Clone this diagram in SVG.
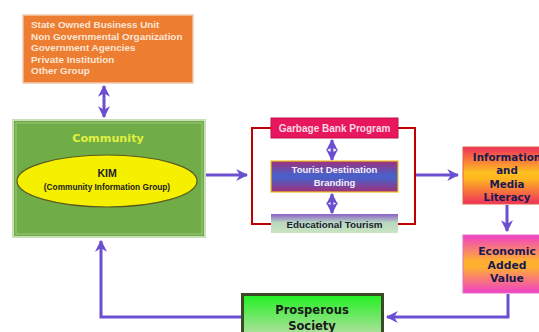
<svg xmlns="http://www.w3.org/2000/svg" width="539" height="332" viewBox="0 0 539 332">
<style>
.conn{fill:none;stroke:#6a4fd0;stroke-width:3}
.t1{font-family:"Liberation Sans",Arial,sans-serif;font-weight:bold}
.t2{font-family:"DejaVu Sans",sans-serif;font-weight:bold}
</style>
<defs>
<marker id="ah" viewBox="0 0 10 10" refX="9" refY="5" markerWidth="4" markerHeight="4" orient="auto-start-reverse" markerUnits="strokeWidth">
<path d="M0,0 L10,5 L0,10 L3,5 z" fill="#6a4fd0"/>
</marker>
<linearGradient id="gTour" x1="0" y1="0" x2="0" y2="1">
<stop offset="0" stop-color="#a0307a"/><stop offset="0.45" stop-color="#4a60c8"/><stop offset="0.55" stop-color="#4a60c8"/><stop offset="1" stop-color="#a0307a"/>
</linearGradient>
<linearGradient id="gEdu" x1="0" y1="0" x2="0" y2="1">
<stop offset="0" stop-color="#8a60c8"/><stop offset="0.45" stop-color="#b8d8c0"/><stop offset="1" stop-color="#c8e4c0"/>
</linearGradient>
<linearGradient id="gInfo" x1="0" y1="0" x2="0" y2="1">
<stop offset="0" stop-color="#f0305a"/><stop offset="0.45" stop-color="#ffc020"/><stop offset="0.55" stop-color="#ffb820"/><stop offset="1" stop-color="#f0305a"/>
</linearGradient>
<linearGradient id="gEco" x1="0" y1="0" x2="0" y2="1">
<stop offset="0" stop-color="#f040c8"/><stop offset="0.45" stop-color="#ffb030"/><stop offset="0.55" stop-color="#ffb030"/><stop offset="1" stop-color="#f040c8"/>
</linearGradient>
<linearGradient id="gPro" x1="0" y1="0" x2="0" y2="1">
<stop offset="0" stop-color="#20f020"/><stop offset="1" stop-color="#b0e0a0"/>
</linearGradient>
</defs>

<g id="connectors">
<line class="conn" x1="104" y1="86" x2="104" y2="117" marker-start="url(#ah)" marker-end="url(#ah)"/>
<line class="conn" x1="206" y1="175" x2="247" y2="175" marker-end="url(#ah)"/>
<line class="conn" x1="332" y1="140" x2="332" y2="160" marker-start="url(#ah)" marker-end="url(#ah)"/>
<line class="conn" x1="332" y1="194" x2="332" y2="213" marker-start="url(#ah)" marker-end="url(#ah)"/>
<line class="conn" x1="416" y1="175" x2="458" y2="175" marker-end="url(#ah)"/>
<line class="conn" x1="507" y1="205" x2="507" y2="231" marker-end="url(#ah)"/>
<polyline class="conn" points="508,294 508,317 387,317" marker-end="url(#ah)"/>
<polyline class="conn" points="241,317 101,317 101,241" marker-end="url(#ah)"/>
</g>

<g id="others">
<rect x="23" y="15" width="170" height="68" fill="#ed7d31" stroke="#f2c8b0" stroke-width="1.5"/>
<g class="t1" font-size="9.9" fill="#fbe6d6">
<text x="31" y="28">State Owned Business Unit</text>
<text x="31" y="39.5">Non Governmental Organization</text>
<text x="31" y="51">Government Agencies</text>
<text x="31" y="62.5">Private Institution</text>
<text x="31" y="74">Other Group</text>
</g>
</g>

<g id="community">
<rect x="13" y="120" width="192" height="117" fill="#70ad47" stroke="#c8e0b8" stroke-width="2"/>
<rect x="16" y="123" width="186" height="111" fill="none" stroke="#a8d090" stroke-width="0.8"/>
<text x="108" y="142" text-anchor="middle" class="t2" font-size="11.2" fill="#e0f040">Community</text>
<ellipse cx="107" cy="181" rx="90" ry="26" fill="#f5f000" stroke="#5a5a20" stroke-width="1.2"/>
<text x="107" y="177" text-anchor="middle" class="t1" font-size="10.5" fill="#202020">KIM</text>
<text x="107" y="189.5" text-anchor="middle" class="t1" font-size="8.3" fill="#202020">(Community Information Group)</text>
</g>

<g id="program">
<rect x="252" y="128" width="163" height="96" fill="none" stroke="#c00000" stroke-width="2"/>
<g id="garbage">
<rect x="271" y="118" width="127" height="20" fill="#e8175d" stroke="#c0104a" stroke-width="1"/>
<text x="334.5" y="132" text-anchor="middle" class="t1" font-size="10" fill="#fbd8e4">Garbage Bank Program</text>
</g>
<g id="tourist">
<rect x="271" y="161" width="127" height="31" fill="url(#gTour)" stroke="#f0c020" stroke-width="1.2"/>
<text x="334.5" y="173" text-anchor="middle" class="t1" font-size="9.5" fill="#f0f0ff">Tourist Destination</text>
<text x="334.5" y="186" text-anchor="middle" class="t1" font-size="9.5" fill="#f0f0ff">Branding</text>
</g>
<g id="educational">
<rect x="271" y="214" width="127" height="19" fill="url(#gEdu)"/>
<text x="334.5" y="228" text-anchor="middle" class="t1" font-size="9.8" fill="#202030">Educational Tourism</text>
</g>
</g>

<g id="information">
<rect x="463" y="147" width="80" height="57" fill="url(#gInfo)" stroke="#e06040" stroke-width="1"/>
<g class="t2" font-size="10.3" fill="#1a1a50" text-anchor="middle">
<text x="507" y="161">Information</text>
<text x="507" y="174">and</text>
<text x="507" y="188">Media</text>
<text x="507" y="201">Literacy</text>
</g>
</g>

<g id="economic">
<rect x="463" y="235" width="80" height="58" fill="url(#gEco)" stroke="#e070c0" stroke-width="1"/>
<g class="t2" font-size="10.8" fill="#1a1a50" text-anchor="middle">
<text x="507" y="255">Economic</text>
<text x="507" y="269">Added</text>
<text x="507" y="282">Value</text>
</g>
</g>

<g id="prosperous">
<rect x="242.5" y="294.5" width="140" height="40" fill="url(#gPro)" stroke="#3a4a28" stroke-width="3"/>
<g class="t2" font-size="11.5" fill="#1a1a1a" text-anchor="middle">
<text x="312" y="314">Prosperous</text>
<text x="312" y="330">Society</text>
</g>
</g>
</svg>
